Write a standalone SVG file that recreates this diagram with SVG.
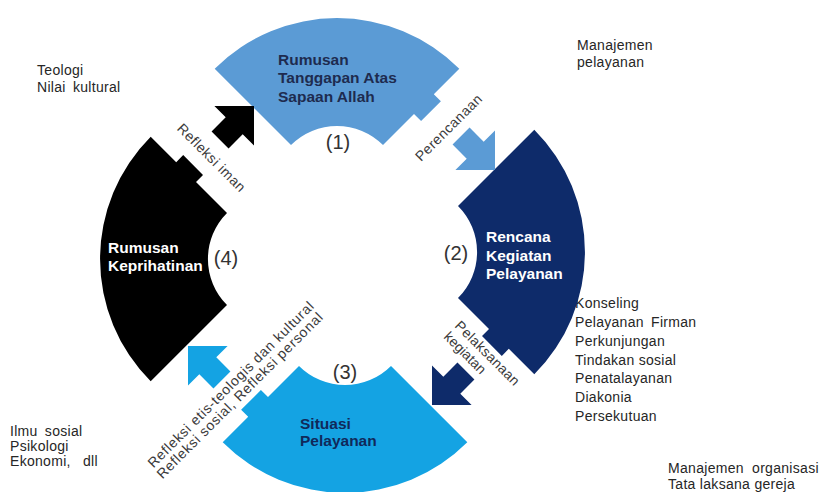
<svg xmlns="http://www.w3.org/2000/svg" width="824" height="492" viewBox="0 0 824 492">
<style>
.t{font-family:"Liberation Sans",Arial,sans-serif;font-size:14px;fill:#262626;letter-spacing:0.3px}
.b{font-family:"Liberation Sans",Arial,sans-serif;font-size:15.5px;font-weight:bold}
.n{font-family:"Liberation Sans",Arial,sans-serif;font-size:20px;fill:#333;text-anchor:middle}
.r{font-family:"Liberation Sans",Arial,sans-serif;font-size:14px;fill:#3a3a3a}
</style>
<defs>
<path id="arr" d="M0,0 L-28,-28 L-28,-12 L-48,-12 L-48,12 L-28,12 L-28,28 Z"/>
</defs>
<rect width="824" height="492" fill="#ffffff"/>

<g id="notes">
<text class="t" x="37" y="75">Teologi</text>
<text class="t" x="37" y="91.5" word-spacing="3">Nilai kultural</text>
<text class="t" x="577" y="50">Manajemen</text>
<text class="t" x="577" y="66.5">pelayanan</text>
<text class="t" x="10" y="436" word-spacing="3">Ilmu sosial</text>
<text class="t" x="10" y="451">Psikologi</text>
<text class="t" x="10" y="466" word-spacing="8">Ekonomi, dll</text>
<text class="t" x="575" y="308">Konseling</text>
<text class="t" x="575" y="327" word-spacing="3">Pelayanan Firman</text>
<text class="t" x="575" y="345.5">Perkunjungan</text>
<text class="t" x="575" y="364.5">Tindakan sosial</text>
<text class="t" x="575" y="383">Penatalayanan</text>
<text class="t" x="575" y="402">Diakonia</text>
<text class="t" x="575" y="420.5">Persekutuan</text>
<text class="t" x="668" y="472.5" word-spacing="4">Manajemen organisasi</text>
<text class="t" x="668" y="488.5">Tata laksana gereja</text>
</g>

<g id="node1">
<path fill="#5B9BD5" d="M291,145 L214.7,68.7 A173,173 0 0 1 459.3,68.7 L433.8,94.2 L440.9,101.2 L421.1,121 L414,113.9 L383,145 A65,65 0 0 0 291,145 Z"/>
<text class="b" fill="#1E2B4F" x="278" y="65">Rumusan</text>
<text class="b" fill="#1E2B4F" x="278" y="83">Tanggapan Atas</text>
<text class="b" fill="#1E2B4F" x="278" y="101.5">Sapaan Allah</text>
<text class="n" x="338" y="149">(1)</text>
</g>

<g id="node2">
<path fill="#0E2B6A" d="M458,206 L534.3,129.7 A173,173 0 0 1 534.3,374.3 L508.8,348.8 L501.8,355.9 L482,336.1 L489,329 L458,298 A65,65 0 0 0 458,206 Z"/>
<text class="b" fill="#ffffff" x="486" y="242">Rencana</text>
<text class="b" fill="#ffffff" x="486" y="260.5">Kegiatan</text>
<text class="b" fill="#ffffff" x="486" y="279">Pelayanan</text>
<text class="n" x="456" y="259.5">(2)</text>
</g>

<g id="node3">
<path fill="#14A3E3" d="M391,366 L467.3,442.3 A173,173 0 0 1 222.7,442.3 L248.2,416.8 L241.1,409.8 L260.9,390 L268,397.1 L299,366 A65,65 0 0 0 391,366 Z"/>
<text class="b" fill="#10295A" x="300" y="429">Situasi</text>
<text class="b" fill="#10295A" x="300" y="446">Pelayanan</text>
<text class="n" x="345" y="379">(3)</text>
</g>

<g id="node4">
<path fill="#000000" d="M227,305 L150.7,381.3 A173,173 0 0 1 150.7,136.7 L176.2,162.2 L183.2,155.1 L203,174.9 L196,181.9 L227,213 A65,65 0 0 0 227,305 Z"/>
<text class="b" fill="#ffffff" x="108" y="253">Rumusan</text>
<text class="b" fill="#ffffff" x="108" y="271">Keprihatinan</text>
<text class="n" x="226" y="264.5">(4)</text>
</g>

<g id="connectors">
<use href="#arr" fill="#000000" transform="translate(254,106) rotate(-45)"/>
<use href="#arr" fill="#5B9BD5" transform="translate(495,170) rotate(45)"/>
<use href="#arr" fill="#0E2B6A" transform="translate(432,405) rotate(135)"/>
<use href="#arr" fill="#14A3E3" transform="translate(188,346) rotate(-135)"/>
<g transform="translate(208,161) rotate(45)"><text class="r" fill="#555" x="0" y="0" text-anchor="middle" textLength="90" lengthAdjust="spacing">Refleksi iman</text></g>
<g transform="translate(452,131) rotate(-45)"><text class="r" fill="#555" x="0" y="0" text-anchor="middle" textLength="88" lengthAdjust="spacing">Perencanaan</text></g>
<g transform="translate(454,326.5) rotate(45)">
<text class="r" x="0" y="0" textLength="85" lengthAdjust="spacing">Pelaksanaan</text>
<text class="r" x="0" y="15.5">kegiatan</text>
</g>
<g transform="translate(234,388) rotate(-45)"><text class="r" x="0" y="0" text-anchor="middle" textLength="228" lengthAdjust="spacing">Refleksi etis-teologis dan kultural</text></g>
<g transform="translate(243,399) rotate(-45)"><text class="r" x="0" y="0" text-anchor="middle" textLength="228" lengthAdjust="spacing">Refleksi sosial, Refleksi personal</text></g>
</g>
</svg>
